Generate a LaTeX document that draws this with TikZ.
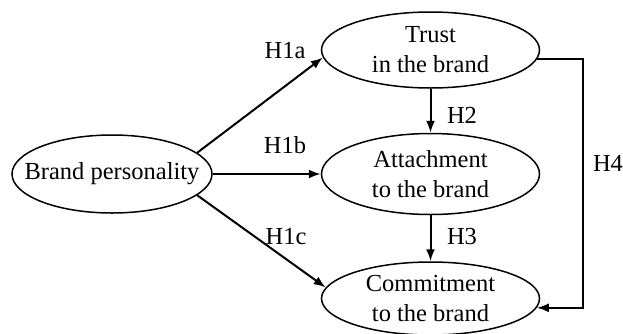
\documentclass[tikz,border=0pt]{standalone}
\usepackage{fontspec}
\setmainfont{Liberation Serif}
\usetikzlibrary{shapes.geometric, positioning, arrows.meta}

\begin{document}
\begin{tikzpicture}[x=1pt, y=-1pt,
        every node/.style={font=\fontsize{24.5}{30}\selectfont},
        construct/.style={draw, ellipse, line width=1.5pt, align=center, inner xsep=-20pt, inner ysep=0pt},
        hyp/.style={-{Latex[length=12pt, width=9pt]}, line width=2pt},
        hlabel/.style={inner sep=0pt}]
        \useasboundingbox (0,0) rectangle (623,333);

        \node (bp) [construct, minimum width=200pt, minimum height=78pt] at (112,174) {Brand personality};
        \node (att) [construct, minimum width=218pt, minimum height=81pt, right=108pt of bp] {Attachment\\to the brand};
        \node (trust) [construct, minimum width=218pt, minimum height=76pt, above=44pt of att] {Trust\\in the brand};
        \node (commit) [construct, minimum width=218pt, minimum height=73pt, below=46pt of att] {Commitment\\to the brand};
        \coordinate (bend) at (583,174);

        \draw[hyp] (bp.14) -- (trust.184);
        \draw[hyp] (bp.east) -- (att.west);
        \draw[hyp] (bp.-14) -- (commit.174);
        \draw[hyp] (trust) -- (att);
        \draw[hyp] (att) -- (commit);
        \draw[hyp] (trust.-5) -- (trust.-5 -| bend) -- (commit.-5 -| bend) -- (commit.-5);

        \node[hlabel] (l1a) at (285,51) {H1a};
        \node[hlabel] (l1b) at (285,145) {H1b};
        \node[hlabel] (l1c) at (286,237) {H1c};
        \node[hlabel] (l2) at (462,115) {H2};
        \node[hlabel] (l3) at (462,237) {H3};
        \node[hlabel] (l4) at (608,163) {H4};
    \end{tikzpicture}
\end{document}
